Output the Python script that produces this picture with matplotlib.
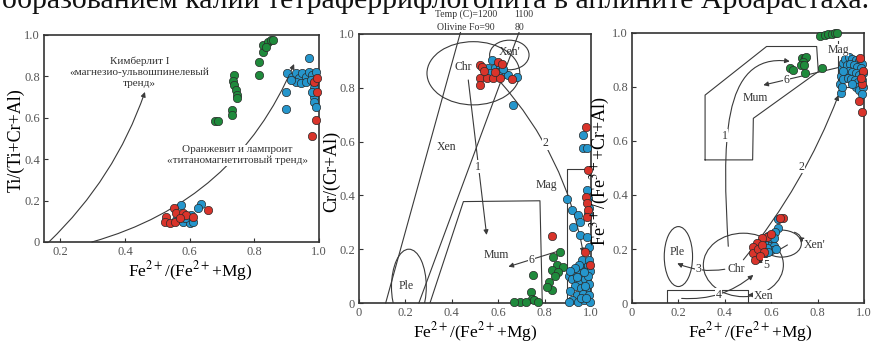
import matplotlib.pyplot as plt
from matplotlib.patches import Ellipse, FancyArrowPatch
from matplotlib.path import Path

plt.rcParams['font.family'] = ['Liberation Serif', 'DejaVu Serif']
plt.rcParams['mathtext.fontset'] = 'stix'

RED = '#d9342b'
BLUE = '#2596cc'
GREEN = '#1f8a3c'
LC = '#3a3a3a'

# --- панель 1: Ti/(Ti+Cr+Al) ---
ti_green_x = [0.677, 0.687, 0.73, 0.73, 0.738, 0.735, 0.737, 0.742, 0.745, 0.748, 0.815, 0.815, 0.826, 0.826, 0.841, 0.851, 0.858, 0.835]
ti_green_y = [0.586, 0.586, 0.638, 0.614, 0.807, 0.78, 0.757, 0.733, 0.71, 0.695, 0.871, 0.807, 0.92, 0.952, 0.968, 0.976, 0.978, 0.94]
ti_blue_x = [0.902, 0.917, 0.928, 0.938, 0.948, 0.959, 0.969, 0.979, 0.99, 0.928, 0.943, 0.959, 0.974, 0.984, 0.912, 0.984, 0.984,
             0.984, 0.99, 0.979, 0.969, 0.898, 0.898,
             0.574, 0.636, 0.626, 0.559, 0.579, 0.6, 0.61, 0.605, 0.585]
ti_blue_y = [0.815, 0.799, 0.815, 0.79, 0.815, 0.799, 0.823, 0.807, 0.823, 0.775, 0.766, 0.775, 0.783, 0.766, 0.783, 0.742, 0.702,
             0.678, 0.654, 0.726, 0.887, 0.726, 0.643,
             0.179, 0.184, 0.163, 0.106, 0.098, 0.09, 0.098, 0.131, 0.114]
ti_red_x = [0.984, 0.994, 0.995, 0.99, 0.978,
            0.656, 0.551, 0.528, 0.523, 0.538, 0.559, 0.579, 0.59, 0.554, 0.569, 0.61]
ti_red_y = [0.775, 0.79, 0.726, 0.59, 0.51,
            0.155, 0.163, 0.122, 0.098, 0.09, 0.138, 0.138, 0.131, 0.098, 0.114, 0.122]

# --- панель 2: Cr/(Cr+Al) ---
cr_green_x = [0.866, 0.838, 0.855, 0.83, 0.88, 0.859, 0.845, 0.75, 0.821, 0.83, 0.74, 0.744, 0.694, 0.67, 0.72, 0.755, 0.77, 0.81]
cr_green_y = [0.19, 0.172, 0.14, 0.123, 0.135, 0.117, 0.1, 0.104, 0.079, 0.048, 0.042, 0.015, 0.005, 0.005, 0.005, 0.01, 0.005, 0.06]
cr_blue_x = [0.572, 0.557, 0.586, 0.607, 0.629, 0.644, 0.565, 0.6, 0.68, 0.665, 0.62,
             0.967, 0.964, 0.984, 0.984, 0.985, 0.99, 0.988, 0.895, 0.917, 0.945, 0.952, 0.924, 0.953, 0.984, 0.99,
             0.905, 0.92, 0.935, 0.95, 0.965, 0.975, 0.985, 0.995, 0.96, 0.945, 0.975, 0.99, 0.93, 0.955, 0.98, 0.91,
             0.94, 0.965, 0.99, 0.92, 0.945, 0.97, 0.995, 0.905, 0.96, 0.985, 0.97, 0.95, 0.93, 0.91, 0.94, 0.99,
             0.975, 0.955, 0.98]
cr_blue_y = [0.903, 0.872, 0.872, 0.878, 0.853, 0.846, 0.855, 0.86, 0.839, 0.736, 0.87,
             0.624, 0.577, 0.577, 0.42, 0.39, 0.355, 0.33, 0.385, 0.345, 0.327, 0.302, 0.284, 0.253, 0.246, 0.21,
             0.1, 0.09, 0.11, 0.12, 0.13, 0.15, 0.14, 0.12, 0.1, 0.08, 0.09, 0.07, 0.065, 0.055, 0.05, 0.045,
             0.03, 0.035, 0.03, 0.01, 0.005, 0.01, 0.005, 0.005, 0.16, 0.1, 0.115, 0.14, 0.13, 0.12, 0.095, 0.16,
             0.065, 0.02, 0.02]
cr_red_x = [0.522, 0.53, 0.601, 0.615, 0.522, 0.55, 0.579, 0.607, 0.54, 0.585, 0.522, 0.658,
            0.978, 0.988, 0.978, 0.984, 0.986, 0.984, 0.83, 0.974, 0.995]
cr_red_y = [0.885, 0.878, 0.897, 0.89, 0.835, 0.835, 0.835, 0.835, 0.862, 0.86, 0.81, 0.833,
            0.653, 0.494, 0.393, 0.37, 0.345, 0.318, 0.249, 0.191, 0.14]

# --- панель 3: Fe3+/(Fe3++Cr+Al) ---
fe_green_x = [0.81, 0.83, 0.845, 0.86, 0.875, 0.885, 0.681, 0.695, 0.731, 0.745, 0.75, 0.738, 0.73, 0.742, 0.746, 0.818]
fe_green_y = [0.99, 0.993, 0.996, 0.998, 1.0, 1.0, 0.869, 0.862, 0.906, 0.906, 0.91, 0.894, 0.88, 0.88, 0.851, 0.869]
fe_blue_x = [0.9, 0.895, 0.9, 0.905, 0.91, 0.92, 0.935, 0.95, 0.965, 0.98, 0.99, 0.925, 0.94, 0.955, 0.97, 0.985, 0.92, 0.935,
             0.95, 0.965, 0.98, 0.995, 0.91, 0.93, 0.945, 0.96, 0.975, 0.99, 0.905, 0.965, 0.98, 0.995, 0.99, 0.91, 0.95,
             0.631, 0.631, 0.617, 0.573, 0.585, 0.59, 0.605, 0.61, 0.6, 0.58, 0.575, 0.56, 0.62, 0.595, 0.61, 0.585]
fe_blue_y = [0.777, 0.81, 0.84, 0.87, 0.89, 0.905, 0.91, 0.905, 0.9, 0.895, 0.885, 0.88, 0.885, 0.88, 0.875, 0.87, 0.855, 0.86,
             0.855, 0.85, 0.845, 0.85, 0.83, 0.835, 0.83, 0.825, 0.82, 0.825, 0.8, 0.8, 0.79, 0.8, 0.775, 0.86, 0.81,
             0.31, 0.276, 0.264, 0.233, 0.25, 0.22, 0.225, 0.21, 0.195, 0.205, 0.185, 0.195, 0.2, 0.24, 0.24, 0.19]
fe_red_x = [0.983, 0.98, 0.99, 0.995, 0.99, 0.985,
            0.652, 0.64, 0.58, 0.559, 0.537, 0.523, 0.523, 0.53, 0.545, 0.56, 0.6, 0.57, 0.55]
fe_red_y = [0.906, 0.748, 0.706, 0.86, 0.81, 0.835,
            0.314, 0.314, 0.246, 0.239, 0.221, 0.209, 0.184, 0.159, 0.2, 0.215, 0.255, 0.19, 0.175]

yticks = [0, 0.2, 0.4, 0.6, 0.8, 1.0]
ytick_labels = ['0', '0.2', '0.4', '0.6', '0.8', '1.0']
xlab = 'Fe$^{2+}$/(Fe$^{2+}$+Mg)'


def frame(ax, xlim, xt, xtl):
    ax.set_xlim(*xlim)
    ax.set_ylim(0, 1)
    ax.set_xticks(xt)
    ax.set_xticklabels(xtl)
    ax.set_yticks(yticks)
    ax.set_yticklabels(ytick_labels)
    ax.tick_params(direction='in', length=3, width=0.8, color='#333', labelsize=9, labelcolor='#555', pad=3)
    for s in ax.spines.values():
        s.set_linewidth(1.2)
        s.set_color('#333')


def dots(ax, x, y, c):
    ax.scatter(x, y, s=36, c=c, edgecolors='#2a2a2a', linewidths=0.5, zorder=3, clip_on=False)


def arrow(ax, a, b, rad=0.0, head=True):
    ax.annotate('', xy=b, xytext=a, zorder=2,
                arrowprops=dict(arrowstyle='-|>' if head else '-', connectionstyle=f'arc3,rad={rad}',
                                color=LC, lw=0.8, mutation_scale=7, shrinkA=0, shrinkB=0))


def tag(ax, x, y, s, size=8.5):
    ax.text(x, y, s, ha='center', va='center', fontsize=size, color='#333', zorder=4,
            bbox=dict(fc='white', ec='none', pad=0.4))


def labels(ax, ylab, ypos, xpos):
    ax.set_ylabel(ylab, fontsize=13)
    ax.yaxis.set_label_coords(*ypos)
    ax.set_xlabel(xlab, fontsize=12.5)
    ax.xaxis.set_label_coords(*xpos)


fig = plt.figure(figsize=(8.71, 3.43), dpi=100)
fig.text(0.5, 1 - 8 / 343, 'образованием калий тетраферрифлогопита в аплините Арбарастаха.',
         ha='center', va='baseline', fontsize=21.5, color='#111')

# панель 1
ax1 = fig.add_axes([44 / 871, 101 / 343, 275 / 871, 207 / 343])
frame(ax1, (0.15, 1.0), [0.2, 0.4, 0.6, 0.8, 1.0], ['0.2', '0.4', '0.6', '0.8', '1.0'])
arrow(ax1, (0.165, 0), (0.462, 0.725), rad=0.12)
arrow(ax1, (0.298, 0), (0.923, 0.86), rad=0.24)
tag(ax1, 0.446, 0.82, 'Кимберлит I\n«магнезио-ульвошпинелевый\nтренд»', size=8)
tag(ax1, 0.748, 0.42, 'Оранжевит и лампроит\n«титаномагнетитовый тренд»', size=8)
dots(ax1, ti_green_x, ti_green_y, GREEN)
dots(ax1, ti_blue_x, ti_blue_y, BLUE)
dots(ax1, ti_red_x, ti_red_y, RED)
labels(ax1, 'Ti/(Ti+Cr+Al)', (-0.069, 0.49), (0.53, -0.08))

# панель 2
ax2 = fig.add_axes([359 / 871, 40 / 343, 232 / 871, 269 / 343])
frame(ax2, (0, 1), yticks, ytick_labels)
ax2.plot([0.115, 0.445], [0, 1.03], color=LC, lw=0.8, clip_on=False, zorder=1)
ax2.plot([0.258, 0.70], [0, 1.03], color=LC, lw=0.8, clip_on=False, zorder=1)
ax2.plot([0.306, 0.45, 0.78, 0.79], [0, 0.377, 0.38, 0], color=LC, lw=0.8, zorder=1)
ax2.plot([0.895, 0.895, 1.0], [0, 0.5, 0.5], color=LC, lw=0.8, zorder=1)
ax2.add_patch(Ellipse((0.215, 0.06), 0.15, 0.28, fill=False, ec=LC, lw=0.8))
ax2.add_patch(Ellipse((0.493, 0.854), 0.40, 0.235, fill=False, ec=LC, lw=0.8))
ax2.add_patch(Ellipse((0.648, 0.922), 0.17, 0.11, fill=False, ec=LC, lw=0.8))
arrow(ax2, (0.471, 0.829), (0.55, 0.253))
arrow(ax2, (0.608, 0.823), (0.967, 0.185), rad=-0.14)
arrow(ax2, (0.852, 0.191), (0.644, 0.135))
tag(ax2, 0.514, 0.507, '1')
tag(ax2, 0.802, 0.594, '2')
tag(ax2, 0.744, 0.16, '6')
for x, y, s in [(0.378, 0.58, 'Xen'), (0.45, 0.878, 'Chr'), (0.65, 0.934, "Xen'"), (0.203, 0.063, 'Ple'),
                (0.593, 0.178, 'Mum'), (0.809, 0.44, 'Mag')]:
    ax2.text(x, y, s, ha='center', va='center', fontsize=8.5, color='#333', zorder=4)
ax2.text(0.46, 1.074, 'Temp (C)=1200', ha='center', va='center', fontsize=7, color='#333')
ax2.text(0.71, 1.074, '1100', ha='center', va='center', fontsize=7, color='#333')
ax2.text(0.46, 1.026, 'Olivine Fo=90', ha='center', va='center', fontsize=7, color='#333',
         bbox=dict(fc='white', ec='none', pad=0.2))
ax2.text(0.69, 1.026, '80', ha='center', va='center', fontsize=7, color='#333',
         bbox=dict(fc='white', ec='none', pad=0.2))
dots(ax2, cr_green_x, cr_green_y, GREEN)
dots(ax2, cr_blue_x, cr_blue_y, BLUE)
dots(ax2, cr_red_x, cr_red_y, RED)
labels(ax2, 'Cr/(Cr+Al)', (-0.082, 0.49), (0.5, -0.063))

# панель 3
ax3 = fig.add_axes([632 / 871, 40 / 343, 232 / 871, 270 / 343])
frame(ax3, (0, 1), yticks, ytick_labels)
ax3.plot([0.315, 0.315, 0.58, 0.796, 0.803, 0.523, 0.52, 0.315],
         [0.53, 0.77, 0.95, 0.95, 0.857, 0.684, 0.53, 0.53], color=LC, lw=0.8, zorder=1)
ax3.plot([0.889, 0.889, 1.0], [0.97, 0.80, 0.80], color=LC, lw=0.8, zorder=1)
ax3.plot([0.15, 0.15, 0.5, 0.5], [0, 0.048, 0.048, 0], color=LC, lw=0.8, zorder=1)
ax3.add_patch(Ellipse((0.2, 0.172), 0.122, 0.222, fill=False, ec=LC, lw=0.8))
ax3.add_patch(Ellipse((0.48, 0.141), 0.345, 0.235, fill=False, ec=LC, lw=0.8))
ax3.add_patch(Ellipse((0.645, 0.22), 0.17, 0.1, fill=False, ec=LC, lw=0.8))
ax3.add_patch(FancyArrowPatch(path=Path([(0.415, 0.21), (0.39, 0.58), (0.38, 0.93), (0.68, 0.895)],
                                        [Path.MOVETO, Path.CURVE4, Path.CURVE4, Path.CURVE4]),
                              arrowstyle='-|>', mutation_scale=7, lw=0.8, color=LC,
                              transform=ax3.transData, zorder=2))
arrow(ax3, (0.48, 0.16), (0.89, 0.77), rad=0.08)
arrow(ax3, (0.40, 0.125), (0.195, 0.147), rad=-0.15)
arrow(ax3, (0.214, 0.017), (0.523, 0.104), rad=0.2)
arrow(ax3, (0.67, 0.215), (0.537, 0.147))
arrow(ax3, (0.904, 0.875), (0.566, 0.807))
arrow(ax3, (0.70, 0.262), (0.73, 0.222), rad=-0.4)
arrow(ax3, (0.53, 0.03), (0.5, 0.03))
tag(ax3, 0.40, 0.62, '1')
tag(ax3, 0.731, 0.505, '2')
tag(ax3, 0.286, 0.125, '3')
tag(ax3, 0.372, 0.03, '4')
tag(ax3, 0.58, 0.141, '5')
tag(ax3, 0.667, 0.825, '6')
for x, y, s in [(0.53, 0.758, 'Mum'), (0.195, 0.19, 'Ple'), (0.45, 0.125, 'Chr'), (0.785, 0.215, "Xen'"),
                (0.566, 0.026, 'Xen'), (0.889, 0.937, 'Mag')]:
    ax3.text(x, y, s, ha='center', va='center', fontsize=8.5, color='#333', zorder=4,
             bbox=dict(fc='white', ec='none', pad=0.2))
dots(ax3, fe_green_x, fe_green_y, GREEN)
dots(ax3, fe_blue_x, fe_blue_y, BLUE)
dots(ax3, fe_red_x, fe_red_y, RED)
labels(ax3, 'Fe$^{3+}$/(Fe$^{3+}$+Cr+Al)', (-0.085, 0.49), (0.51, -0.063))

fig.savefig('out.png', dpi=100)
